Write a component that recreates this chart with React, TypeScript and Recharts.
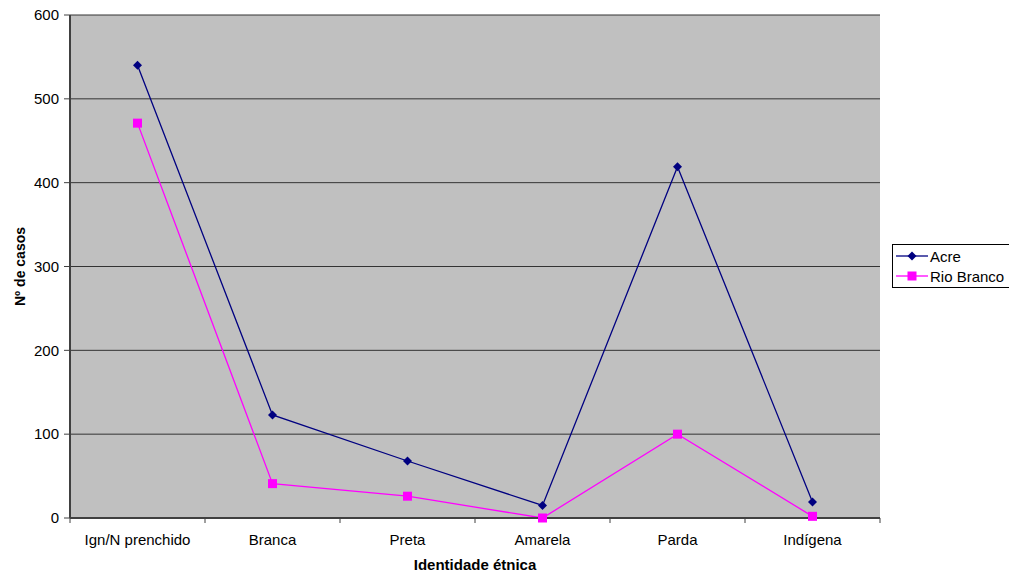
import React from 'react';
import { LineChart, Line, XAxis, YAxis, CartesianGrid } from 'recharts';

const categories = ['Ign/N prenchido', 'Branca', 'Preta', 'Amarela', 'Parda', 'Indígena'];
const acre = [540, 123, 68, 15, 419, 19];
const rioBranco = [471, 41, 26, 0, 100, 2];
const yTicks = [0, 100, 200, 300, 400, 500, 600];

const data = categories.map((name, i) => ({ name, acre: acre[i], rioBranco: rioBranco[i] }));

const WIDTH = 1009;
const HEIGHT = 574;
const MARGIN = { top: 15, right: 129, bottom: 0, left: 0 };
const Y_AXIS_W = 70;
const X_AXIS_H = 56;
const plotWidth = WIDTH - MARGIN.left - MARGIN.right - Y_AXIS_W;
const halfBand = plotWidth / categories.length / 2;

const FONT = 'Arial, "Liberation Sans", sans-serif';
const AXIS_COLOR = '#404040';

// Category labels centred in each band, with tick marks on band boundaries
const CategoryTick = (props: any) => {
  const { x, y, payload, index } = props;
  const isLast = index === categories.length - 1;
  const axisY = y - 2;
  return (
    <g>
      <line x1={x - halfBand} x2={x - halfBand} y1={axisY} y2={axisY + 5} stroke={AXIS_COLOR} strokeWidth={1} />
      {isLast && (
        <line x1={x + halfBand} x2={x + halfBand} y1={axisY} y2={axisY + 5} stroke={AXIS_COLOR} strokeWidth={1} />
      )}
      <text x={x} y={axisY + 27} textAnchor="middle" fill="#000" fontSize={15} fontFamily={FONT}>
        {payload.value}
      </text>
    </g>
  );
};

const Diamond = (props: any) => {
  const { cx, cy } = props;
  if (cx == null || cy == null) return null;
  const r = 4.5;
  return <path d={`M${cx},${cy - r}L${cx + r},${cy}L${cx},${cy + r}L${cx - r},${cy}Z`} fill="#000080" />;
};

const Square = (props: any) => {
  const { cx, cy } = props;
  if (cx == null || cy == null) return null;
  const s = 4.5;
  return <rect x={cx - s} y={cy - s} width={2 * s} height={2 * s} fill="#FF00FF" />;
};

const LegendBox = () => (
  <div
    style={{
      position: 'absolute',
      left: 892,
      top: 244,
      border: '1px solid #000',
      background: '#fff',
      width: 122,
      height: 44,
      boxSizing: 'border-box',
      fontFamily: FONT,
      fontSize: 15,
      color: '#000',
      padding: '1px 0 0 3px',
    }}
  >
    <div style={{ display: 'flex', alignItems: 'center', height: 20 }}>
      <svg width={32} height={10}>
        <line x1={0} x2={32} y1={5} y2={5} stroke="#000080" strokeWidth={1.3} />
        <path d="M16,0.5L20.5,5L16,9.5L11.5,5Z" fill="#000080" />
      </svg>
      <span style={{ marginLeft: 2 }}>Acre</span>
    </div>
    <div style={{ display: 'flex', alignItems: 'center', height: 20 }}>
      <svg width={32} height={10}>
        <line x1={0} x2={32} y1={5} y2={5} stroke="#FF00FF" strokeWidth={1.3} />
        <rect x={11.5} y={0.5} width={9} height={9} fill="#FF00FF" />
      </svg>
      <span style={{ marginLeft: 2 }}>Rio Branco</span>
    </div>
  </div>
);

export default function App() {
  return (
    <div style={{ position: 'absolute', left: 0, top: 0, width: WIDTH, height: HEIGHT, background: '#fff', overflow: 'hidden' }}>
      <LineChart width={WIDTH} height={HEIGHT} data={data} margin={MARGIN}>
        <CartesianGrid vertical={false} stroke="#333" strokeWidth={1} fill="#C0C0C0" fillOpacity={1} />
        <XAxis
          dataKey="name"
          scale="band"
          height={X_AXIS_H}
          axisLine={{ stroke: AXIS_COLOR, strokeWidth: 2 }}
          tickLine={false}
          tickSize={0}
          tickMargin={2}
          tick={<CategoryTick />}
          interval={0}
          label={{
            value: 'Identidade étnica',
            position: 'insideBottom',
            offset: 4,
            fill: '#000',
            fontSize: 15,
            fontWeight: 'bold',
            fontFamily: FONT,
          }}
        />
        <YAxis
          width={Y_AXIS_W}
          domain={[0, 600]}
          ticks={yTicks}
          interval={0}
          axisLine={{ stroke: AXIS_COLOR, strokeWidth: 2 }}
          tickLine={{ stroke: AXIS_COLOR, strokeWidth: 1 }}
          tickSize={6}
          tickMargin={5}
          tick={{ fill: '#000', fontSize: 15, fontFamily: FONT }}
          label={{
            value: 'Nº de casos',
            angle: -90,
            position: 'insideLeft',
            offset: 20,
            fill: '#000',
            fontSize: 14,
            fontWeight: 'bold',
            fontFamily: FONT,
            style: { textAnchor: 'middle' },
          }}
        />
        <Line
          type="linear"
          dataKey="acre"
          name="Acre"
          stroke="#000080"
          strokeWidth={1.3}
          dot={<Diamond />}
          activeDot={false}
          isAnimationActive={false}
        />
        <Line
          type="linear"
          dataKey="rioBranco"
          name="Rio Branco"
          stroke="#FF00FF"
          strokeWidth={1.3}
          dot={<Square />}
          activeDot={false}
          isAnimationActive={false}
        />
      </LineChart>
      <LegendBox />
    </div>
  );
}
